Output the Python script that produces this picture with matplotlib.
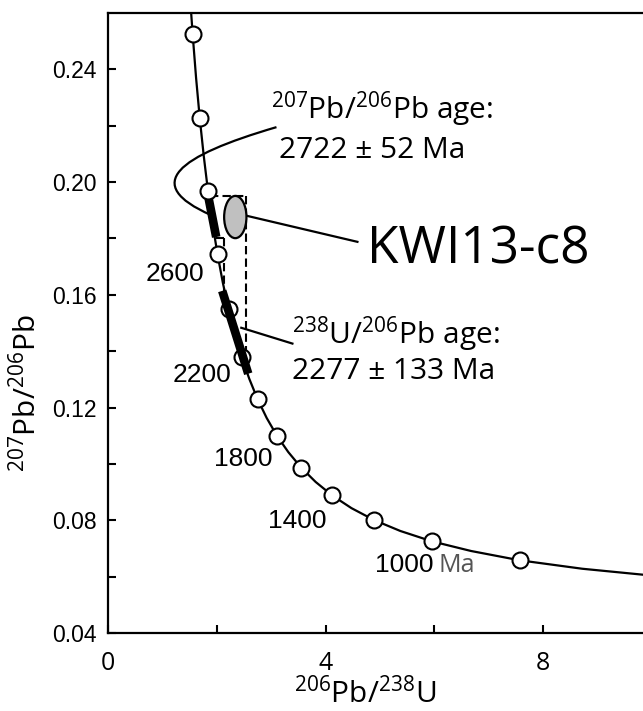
import matplotlib.pyplot as plt
from matplotlib.patches import Ellipse, PathPatch
from matplotlib.path import Path

plt.rcParams['font.family'] = ['Open Sans', 'DejaVu Sans']
plt.rcParams['mathtext.fontset'] = 'custom'
plt.rcParams['mathtext.rm'] = 'Open Sans'
plt.rcParams['mathtext.it'] = 'Open Sans:italic'
plt.rcParams['mathtext.bf'] = 'Open Sans:bold'

narrow = ['Liberation Sans Narrow', 'Liberation Sans', 'Open Sans']

# concordia, 600-3300 Ma in 100 Ma steps (238U/206Pb, 207Pb/206Pb)
conc_x = [10.25, 8.718, 7.568, 6.674, 5.959, 5.374, 4.888, 4.476, 4.122, 3.817,
          3.550, 3.314, 3.105, 2.917, 2.749, 2.597, 2.459, 2.332, 2.217, 2.111,
          2.013, 1.922, 1.838, 1.760, 1.687, 1.619, 1.556, 1.496]
conc_y = [0.0599, 0.0628, 0.0658, 0.0691, 0.0725, 0.0762, 0.0801, 0.0843, 0.0888, 0.0936,
          0.0987, 0.1042, 0.1100, 0.1163, 0.1230, 0.1302, 0.1378, 0.1460, 0.1548, 0.1643,
          0.1744, 0.1852, 0.1968, 0.2093, 0.2226, 0.2370, 0.2525, 0.2690]

# age marks every 200 Ma, 800-3200 Ma
mark_x = [7.568, 5.959, 4.888, 4.122, 3.550, 3.105, 2.749, 2.459, 2.217, 2.013, 1.838, 1.687, 1.556]
mark_y = [0.0658, 0.0725, 0.0801, 0.0888, 0.0987, 0.1100, 0.1230, 0.1378, 0.1548, 0.1744, 0.1968, 0.2226, 0.2525]

# labelled ages: text, right edge x, baseline y
age_text = ['2600', '2200', '1800', '1400']
age_x = [1.77, 2.265, 3.02, 4.01]
age_y = [0.1650, 0.1289, 0.0991, 0.0772]

# spot KWI13-c8
spot_x, spot_y = 2.34, 0.1876
spot_w, spot_h = 0.41, 0.0150

# age bars along concordia
pb_bar_x = [1.842, 1.989]
pb_bar_y = [0.1950, 0.1805]
u_bar_x = [2.10, 2.578]
u_bar_y = [0.1614, 0.1320]

xticks = [0, 4, 8]
xlabels = ['0', '4', '8']
yticks = [0.04, 0.08, 0.12, 0.16, 0.20, 0.24]
ylabels = ['0.04', '0.08', '0.12', '0.16', '0.20', '0.24']

fig = plt.figure(figsize=(6.43, 7.11), dpi=100)
ax = fig.add_axes([108 / 643, 78 / 711, 544 / 643, 620 / 711])
ax.set_xlim(0, 10)
ax.set_ylim(0.04, 0.26)

ax.plot(conc_x, conc_y, color='black', lw=1.6, zorder=2)
ax.plot(pb_bar_x, pb_bar_y, color='black', lw=6.2, solid_capstyle='butt', zorder=3)
ax.plot(mark_x, mark_y, 'o', ms=11.5, mfc='white', mec='black', mew=1.5, zorder=4)
ax.plot(u_bar_x, u_bar_y, color='black', lw=6.2, solid_capstyle='butt', zorder=5)

# projection box from the spot onto the concordia
dash = dict(color='black', lw=1.5, ls=(0, (4, 2)), zorder=3)
ax.plot([1.88, 2.54], [0.1950, 0.1950], **dash)
ax.plot([2.54, 2.54], [0.1950, 0.1350], **dash)
ax.plot([1.99, 2.14], [0.1802, 0.1802], **dash)
ax.plot([2.14, 2.14], [0.1802, 0.1614], **dash)

ax.add_patch(Ellipse((spot_x, spot_y), spot_w, spot_h, facecolor='#c0c0c0',
                     edgecolor='black', lw=1.6, zorder=6))

# leader lines
verts = [(3.097, 0.2195), (1.275, 0.2092), (0.601, 0.1993), (1.894, 0.1883)]
curve = Path(verts, [Path.MOVETO, Path.CURVE4, Path.CURVE4, Path.CURVE4])
ax.add_patch(PathPatch(curve, facecolor='none', edgecolor='black', lw=1.6, zorder=2))
ax.plot([2.56, 4.585], [0.1880, 0.1788], color='black', lw=1.6, zorder=2)
ax.plot([2.45, 3.39], [0.1483, 0.1427], color='black', lw=1.6, zorder=2)

fs = 21.5
ax.text(3.00, 0.2225, r'$^{207}$Pb/$^{206}$Pb age:', fontsize=fs, va='baseline')
ax.text(3.15, 0.2085, '2722 ± 52 Ma', fontsize=fs, va='baseline')
ax.text(3.39, 0.1427, r'$^{238}$U/$^{206}$Pb age:', fontsize=fs, va='baseline')
ax.text(3.39, 0.1303, '2277 ± 133 Ma', fontsize=fs, va='baseline')
ax.text(4.77, 0.1710, 'KWI13-c8', fontsize=37, va='baseline')

for t, x, y in zip(age_text, age_x, age_y):
    ax.text(x, y, t, fontsize=19, family=narrow, ha='right', va='baseline')
ax.text(4.90, 0.0616, '1000', fontsize=19, family=narrow, va='baseline')
ax.text(6.08, 0.0616, 'Ma', fontsize=18, color='#555555', va='baseline')

ax.set_xticks(xticks)
ax.set_xticklabels(xlabels)
ax.set_xticks([2, 6], minor=True)
ax.set_yticks(yticks)
ax.set_yticklabels(ylabels)
ax.set_yticks([0.06, 0.10, 0.14, 0.18, 0.22], minor=True)
ax.tick_params(which='both', direction='in', length=6, width=1.5, top=False, right=False)
ax.tick_params(axis='y', pad=8)
ax.tick_params(axis='x', pad=13)
for lab in ax.get_yticklabels():
    lab.set_family(narrow)
    lab.set_fontsize(16.5)
for lab in ax.get_xticklabels():
    lab.set_fontsize(18)

for s in ax.spines.values():
    s.set_linewidth(1.6)

fig.text(365 / 643, 1 / 711, r'$^{206}$Pb/$^{238}$U', fontsize=fs, ha='center', va='bottom')
fig.text(26 / 643, 318 / 711, r'$^{207}$Pb/$^{206}$Pb', fontsize=fs, rotation=90,
         ha='center', va='center')

fig.savefig('out.png', dpi=100)
